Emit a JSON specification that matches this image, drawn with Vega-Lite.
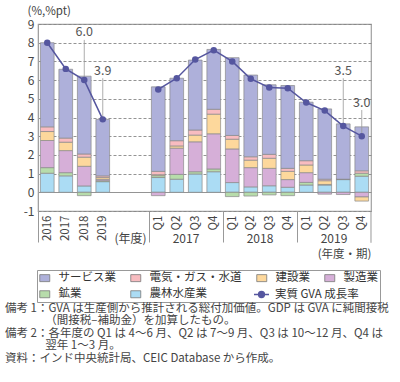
{
  "$schema": "https://vega.github.io/schema/vega-lite/v6.json",
  "width": 333,
  "height": 187,
  "autosize": {"type": "none"},
  "padding": {"left": 38, "top": 24, "right": 29, "bottom": 171},
  "background": "white",
  "config": {
    "font": "Noto Sans CJK JP",
    "view": {"stroke": "#a0a0a0", "strokeWidth": 1.2},
    "axis": {"labelFont": "Noto Sans CJK JP", "titleFont": "Noto Sans CJK JP", "labelColor": "#444", "titleColor": "#444", "titleFontWeight": "normal"},
    "legend": {"labelFont": "Noto Sans CJK JP", "labelColor": "#333"}
  },
  "title": {
    "text": [
      "備考 1：GVA は生産側から推計される総付加価値。GDP は GVA に純間接税",
      "\u200b\u3000\u3000\u3000\u2002（間接税–補助金）を加算したもの。",
      "備考 2：各年度の Q1 は 4～6 月、Q2 は 7～9 月、Q3 は 10～12 月、Q4 は",
      "\u200b\u3000\u3000\u3000\u2002翌年 1～3 月。",
      "資料：インド中央統計局、CEIC Database から作成。"
    ],
    "orient": "bottom",
    "anchor": "start",
    "frame": "group",
    "align": "left",
    "baseline": "top",
    "font": "Noto Sans CJK JP",
    "fontSize": 11.5,
    "fontWeight": "normal",
    "color": "#444",
    "lineHeight": 12.5,
    "offset": 0,
    "dx": -33
  },
  "datasets": {
    "main": [
      {"slot": "2016", "grp": "A", "農林水産業": 1.02, "鉱業": 0.30, "製造業": 1.45, "建設業": 0.48, "電気・ガス・水道": 0.25, "サービス業": 4.50, "gva": 8.0},
      {"slot": "2017", "grp": "A", "農林水産業": 0.88, "鉱業": 0.17, "製造業": 1.18, "建設業": 0.45, "電気・ガス・水道": 0.22, "サービス業": 3.68, "gva": 6.6},
      {"slot": "2018", "grp": "A", "農林水産業": 0.34, "鉱業": -0.18, "製造業": 1.05, "建設業": 0.49, "電気・ガス・水道": 0.17, "サービス業": 4.16, "gva": 6.0},
      {"slot": "2019", "grp": "A", "農林水産業": 0.57, "鉱業": 0.05, "製造業": 0.08, "建設業": 0.10, "電気・ガス・水道": 0.08, "サービス業": 3.02, "gva": 3.9},
      {"slot": "2017-Q1", "grp": "Q", "農林水産業": 0.79, "鉱業": 0.10, "製造業": -0.18, "建設業": 0.05, "電気・ガス・水道": 0.18, "サービス業": 4.52, "gva": 5.5},
      {"slot": "2017-Q2", "grp": "Q", "農林水産業": 0.70, "鉱業": 0.26, "製造業": 1.40, "建設業": 0.12, "電気・ガス・水道": 0.28, "サービス業": 3.34, "gva": 6.1},
      {"slot": "2017-Q3", "grp": "Q", "農林水産業": 0.98, "鉱業": 0.12, "製造業": 1.60, "建設業": 0.36, "電気・ガス・水道": 0.27, "サービス業": 3.74, "gva": 7.1},
      {"slot": "2017-Q4", "grp": "Q", "農林水産業": 1.10, "鉱業": 0.15, "製造業": 1.88, "建設業": 1.05, "電気・ガス・水道": 0.26, "サービス業": 3.20, "gva": 7.6},
      {"slot": "2018-Q1", "grp": "Q", "農林水産業": 0.52, "鉱業": -0.23, "製造業": 1.80, "建設業": 0.52, "電気・ガス・水道": 0.20, "サービス業": 4.16, "gva": 7.0},
      {"slot": "2018-Q2", "grp": "Q", "農林水産業": 0.29, "鉱業": -0.20, "製造業": 1.03, "建設業": 0.40, "電気・ガス・水道": 0.18, "サービス業": 4.37, "gva": 6.07},
      {"slot": "2018-Q3", "grp": "Q", "農林水産業": 0.35, "鉱業": -0.14, "製造業": 0.93, "建設業": 0.54, "電気・ガス・水道": 0.21, "サービス業": 3.72, "gva": 5.6},
      {"slot": "2018-Q4", "grp": "Q", "農林水産業": 0.27, "鉱業": -0.18, "製造業": 0.41, "建設業": 0.44, "電気・ガス・水道": 0.16, "サービス業": 4.43, "gva": 5.57},
      {"slot": "2019-Q1", "grp": "Q", "農林水産業": 0.39, "鉱業": 0.14, "製造業": 0.52, "建設業": 0.41, "電気・ガス・水道": 0.23, "サービス業": 3.13, "gva": 4.8},
      {"slot": "2019-Q2", "grp": "Q", "農林水産業": 0.39, "鉱業": 0.03, "製造業": -0.10, "建設業": 0.20, "電気・ガス・水道": 0.08, "サービス業": 3.76, "gva": 4.37},
      {"slot": "2019-Q3", "grp": "Q", "農林水産業": 0.68, "鉱業": 0.02, "製造業": -0.12, "建設業": 0.0, "電気・ガス・水道": 0.0, "サービス業": 2.96, "gva": 3.54},
      {"slot": "2019-Q4", "grp": "Q", "農林水産業": 0.86, "鉱業": 0.16, "製造業": -0.25, "建設業": -0.22, "電気・ガス・水道": 0.13, "サービス業": 2.35, "gva": 3.0}
    ],
    "sectors": [
      {"sector": "農林水産業", "k": 1},
      {"sector": "鉱業", "k": 2},
      {"sector": "製造業", "k": 3},
      {"sector": "建設業", "k": 4},
      {"sector": "電気・ガス・水道", "k": 5},
      {"sector": "サービス業", "k": 6}
    ],
    "ann": [
      {"slot": "2018", "txt": "6.0", "ty": 8.55, "r0": 8.15, "r1": 6.0},
      {"slot": "2019", "txt": "3.9", "ty": 6.5, "r0": 6.1, "r1": 3.9},
      {"slot": "2019-Q3", "txt": "3.5", "ty": 6.5, "r0": 6.1, "r1": 3.54},
      {"slot": "2019-Q4", "txt": "3.0", "ty": 4.8, "r0": 4.4, "r1": 3.0}
    ],
    "groups": [
      {"slot": "2017-Q3", "t": "2017"},
      {"slot": "2018-Q3", "t": "2018"},
      {"slot": "2019-Q3", "t": "2019"},
      {"slot": "b2", "t": "(年度)"}
    ]
  },
  "layer": [
    {
      "data": {"name": "main"},
      "transform": [
        {"fold": ["農林水産業", "鉱業", "製造業", "建設業", "電気・ガス・水道", "サービス業"], "as": ["sector", "v"]},
        {"lookup": "sector", "from": {"data": {"name": "sectors"}, "key": "sector", "fields": ["k"]}}
      ],
      "mark": {"type": "bar", "stroke": "#8a8a8a", "strokeWidth": 0.7},
      "encoding": {
        "x": {
          "field": "slot", "type": "nominal", "title": "(年度・期)",
          "scale": {"domain": ["2016", "2017", "2018", "2019", "b1", "b2", "2017-Q1", "2017-Q2", "2017-Q3", "2017-Q4", "2018-Q1", "2018-Q2", "2018-Q3", "2018-Q4", "2019-Q1", "2019-Q2", "2019-Q3", "2019-Q4"], "paddingInner": 0.26, "paddingOuter": 0.13},
          "axis": {
            "labelExpr": "indexof(datum.value, '-') > 0 ? split(datum.value, '-')[1] : (indexof(datum.value, 'b') == 0 ? '' : datum.value)",
            "labelAngle": 270,
            "labelFontSize": 11.5,
            "labelPadding": -27,
            "labelOffset": 2.4,
            "labelOverlap": false,
            "domain": false,
            "ticks": true,
            "bandPosition": 0,
            "tickOffset": -2.4,
            "tickSize": 31,
            "tickColor": "#999",
            "tickWidth": 1,
            "tickOpacity": {"condition": {"test": "indexof(['2016', '2017-Q1', '2018-Q1', '2019-Q1'], datum.value) >= 0", "value": 1}, "value": 0},
            "titleAnchor": "end",
            "titleAlign": "right",
            "titleBaseline": "top",
            "titleY": 37,
            "titleFontSize": 11.5
          }
        },
        "y": {
          "field": "v", "type": "quantitative", "stack": "zero", "title": "(%,%pt)",
          "scale": {"domain": [-1, 9], "nice": false},
          "axis": {
            "values": [-1, 0, 1, 2, 3, 4, 5, 6, 7, 8, 9],
            "tickCount": 20,
            "labelExpr": "'' + datum.value",
            "labelFontSize": 12,
            "labelPadding": 4,
            "labelOverlap": false,
            "ticks": false,
            "domain": true,
            "domainColor": "#a0a0a0",
            "grid": true,
            "gridColor": "#888",
            "gridWidth": 0.9,
            "gridDash": {"condition": {"test": "datum.value === 0", "value": []}, "value": [3, 2]},
            "titleAngle": 0,
            "titleAlign": "left",
            "titleBaseline": "middle",
            "titleX": -11,
            "titleY": -13,
            "titleFontSize": 11.5
          }
        },
        "order": {"field": "k", "type": "quantitative", "sort": "ascending"},
        "fill": {
          "field": "sector", "type": "nominal",
          "sort": ["サービス業", "電気・ガス・水道", "建設業", "製造業", "鉱業", "農林水産業"],
          "scale": {
            "domain": ["サービス業", "電気・ガス・水道", "建設業", "製造業", "鉱業", "農林水産業"],
            "range": ["#aeb0da", "#f8bcc0", "#fdd89c", "#d6afd8", "#b7dcab", "#abdcf4"]
          },
          "legend": {
            "orient": "none",
            "legendX": -1,
            "legendY": 246,
            "direction": "horizontal",
            "columns": 4,
            "title": null,
            "symbolType": "M-1,-0.7H1V0.7H-1Z",
            "symbolSize": 100,
            "symbolStrokeColor": "#777",
            "symbolStrokeWidth": 0.8,
            "labelFontSize": 11.5,
            "labelOffset": 8,
            "columnPadding": 13,
            "rowPadding": 3.5,
            "padding": 2,
            "strokeColor": "#999",
            "labelExpr": "datum.label == '建設業' ? datum.label + '\u00a0\u00a0\u00a0\u00a0' : datum.label"
          }
        }
      }
    },
    {
      "data": {"values": [{"slot": "2019-Q4"}]},
      "mark": {"type": "rule", "color": "#999", "strokeWidth": 1, "xOffset": 2.4},
      "encoding": {
        "x": {"field": "slot", "type": "nominal", "bandPosition": 1, "title": "(年度・期)"},
        "y": {"datum": -1},
        "y2": {"datum": -2.7}
      }
    },
    {
      "data": {"name": "groups"},
      "mark": {"type": "text", "xOffset": -2.4, "fontSize": 12, "color": "#444", "baseline": "middle"},
      "encoding": {
        "x": {"field": "slot", "type": "nominal", "bandPosition": 0, "title": "(年度・期)"},
        "y": {"datum": -2.5},
        "text": {"field": "t"}
      }
    },
    {
      "data": {"name": "ann"},
      "mark": {"type": "rule", "color": "#999", "strokeWidth": 0.8},
      "encoding": {
        "x": {"field": "slot", "type": "nominal", "title": "(年度・期)"},
        "y": {"field": "r0", "type": "quantitative", "title": "(%,%pt)"},
        "y2": {"field": "r1"}
      }
    },
    {
      "data": {"name": "main"},
      "mark": {"type": "line", "strokeWidth": 1.5},
      "encoding": {
        "x": {"field": "slot", "type": "nominal", "title": "(年度・期)"},
        "y": {"field": "gva", "type": "quantitative", "title": "(%,%pt)"},
        "detail": {"field": "grp"},
        "stroke": {
          "datum": "実質 GVA 成長率",
          "scale": {"range": ["#55569f"]},
          "legend": {
            "orient": "none",
            "legendX": 215,
            "legendY": 262,
            "title": null,
            "symbolType": "M-1,0H1M-0.4,0A0.4,0.4 0 1,0 0.4,0A0.4,0.4 0 1,0 -0.4,0",
            "symbolSize": 225,
            "symbolStrokeWidth": 1.3,
            "symbolFillColor": "#55569f",
            "labelFontSize": 11.5,
            "labelOffset": 5,
            "padding": 0
          }
        }
      }
    },
    {
      "data": {"name": "main"},
      "mark": {"type": "point", "filled": true, "color": "#55569f", "size": 42, "opacity": 1},
      "encoding": {
        "x": {"field": "slot", "type": "nominal", "title": "(年度・期)"},
        "y": {"field": "gva", "type": "quantitative", "title": "(%,%pt)"}
      }
    },
    {
      "data": {"name": "ann"},
      "mark": {"type": "text", "fontSize": 12.5, "color": "#555", "baseline": "middle"},
      "encoding": {
        "x": {"field": "slot", "type": "nominal", "title": "(年度・期)"},
        "y": {"field": "ty", "type": "quantitative", "title": "(%,%pt)"},
        "text": {"field": "txt"}
      }
    }
  ]
}
